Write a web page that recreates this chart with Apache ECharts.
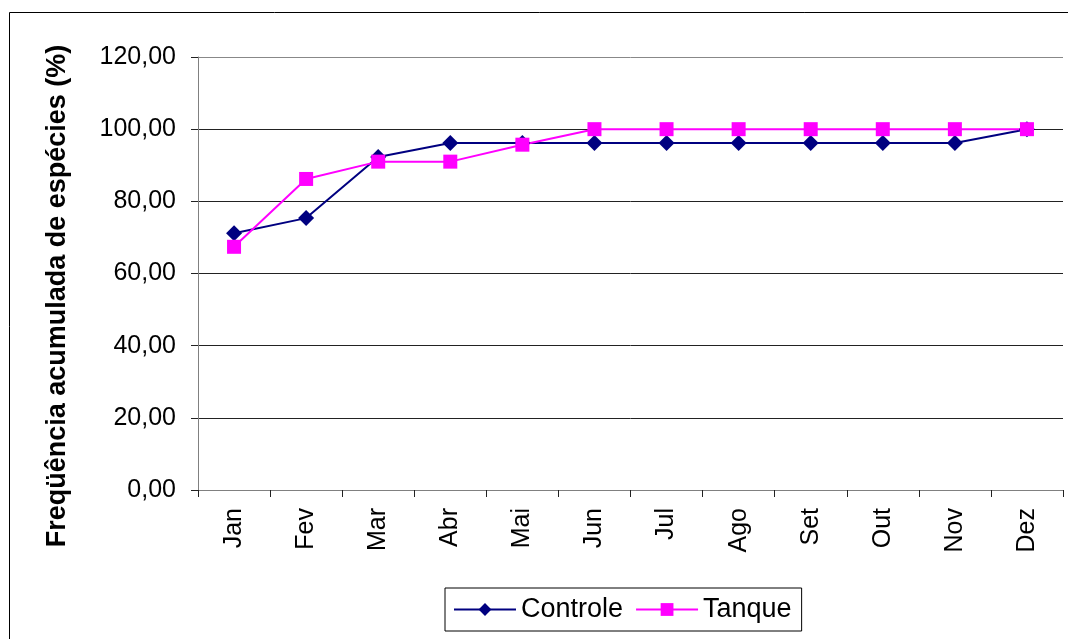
<!DOCTYPE html>
<html>
<head>
<meta charset="utf-8">
<script src="https://cdn.jsdelivr.net/npm/echarts@6/dist/echarts.min.js"></script>
<style>html,body{margin:0;padding:0;background:#fff}#c{width:1068px;height:639px}</style>
</head>
<body>
<div id="c"></div>
<script>
var categories = ['Jan','Fev','Mar','Abr','Mai','Jun','Jul','Ago','Set','Out','Nov','Dez'];
var controle = [71.15, 75.35, 92.3, 96.15, 96.15, 96.15, 96.15, 96.15, 96.15, 96.15, 96.15, 100];
var tanque = [67.4, 86.2, 91.0, 91.0, 95.7, 100, 100, 100, 100, 100, 100, 100];
var seriesNames = ['Controle', 'Tanque'];
var yTitle = 'Freqüência acumulada de espécies (%)';

var chart = echarts.init(document.getElementById('c'), null, {renderer: 'canvas'});
var font = 'Liberation Sans, Arial, sans-serif';
chart.setOption({
  animation: false,
  backgroundColor: '#fff',
  textStyle: {fontFamily: font},
  grid: {left: 198, right: 5, top: 57, bottom: 149, containLabel: false},
  graphic: [
    {type: 'rect', shape: {x: 9.5, y: 12.5, width: 1100, height: 700}, style: {fill: 'none', stroke: '#000', lineWidth: 1}, silent: true},
    {type: 'text', x: 58, y: 296, rotation: Math.PI / 2,
     style: {text: yTitle, font: 'bold 27px ' + font, fill: '#000', textAlign: 'center', textVerticalAlign: 'middle'}}
  ],
  legend: {
    left: 445, top: 588,
    data: seriesNames,
    itemWidth: 62, itemHeight: 16, itemGap: 12,
    padding: [8, 10, 8, 8],
    borderColor: '#000', borderWidth: 1,
    textStyle: {fontSize: 27, color: '#000', fontFamily: font}
  },
  xAxis: {
    type: 'category', data: categories, boundaryGap: true,
    axisLine: {lineStyle: {color: '#808080', width: 1}},
    axisTick: {show: true, length: 7, lineStyle: {color: '#222'}},
    axisLabel: {rotate: 90, margin: 18, fontSize: 25, color: '#000', fontFamily: font}
  },
  yAxis: {
    type: 'value', min: 0, max: 120, interval: 20,
    axisLine: {show: true, lineStyle: {color: '#808080', width: 1}},
    axisTick: {show: true, length: 7, lineStyle: {color: '#222'}},
    axisLabel: {margin: 22, fontSize: 25, color: '#000', fontFamily: font,
      formatter: function (v) { return v.toFixed(2).replace('.', ','); }},
    splitLine: {show: true, lineStyle: {color: ['#222','#222','#222','#222','#222','#222','#888'], width: 1}}
  },
  series: [
    {name: seriesNames[0], type: 'line', data: controle, symbol: 'diamond', symbolSize: 16,
     lineStyle: {color: '#000080', width: 2}, itemStyle: {color: '#000080'}},
    {name: seriesNames[1], type: 'line', data: tanque, symbol: 'rect', symbolSize: 14,
     lineStyle: {color: '#FF00FF', width: 2}, itemStyle: {color: '#FF00FF'}}
  ]
});
</script>
</body>
</html>
